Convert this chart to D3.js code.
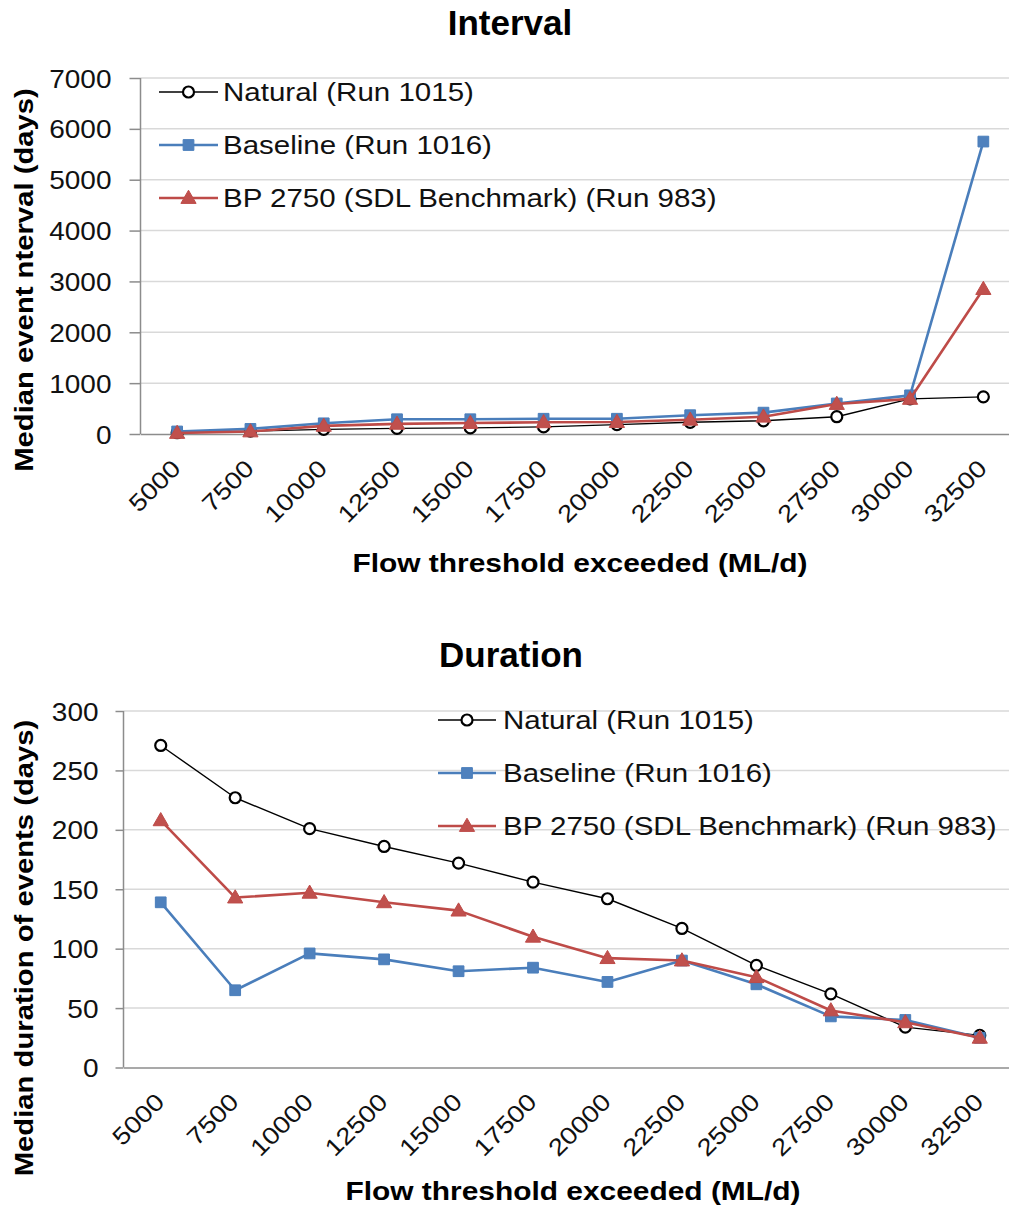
<!DOCTYPE html>
<html><head><meta charset="utf-8">
<script src="https://cdn.jsdelivr.net/npm/d3@7/dist/d3.min.js"></script>
<style>
html,body{margin:0;padding:0;background:#fff;}
svg{display:block;font-family:"Liberation Sans",Arial,sans-serif;}
</style></head>
<body>
<svg id="c" width="1009" height="1212"></svg>
<script>
const categories = ["5000","7500","10000","12500","15000","17500","20000","22500","25000","27500","30000","32500"];
const seriesNames = ["Natural (Run 1015)","Baseline (Run 1016)","BP 2750 (SDL Benchmark) (Run 983)"];

const intervalNatural  = [25, 55, 90, 110, 120, 140, 185, 230, 260, 340, 690, 730];
const intervalBaseline = [50, 100, 210, 290, 290, 300, 300, 370, 420, 600, 760, 5750];
const intervalBP       = [20, 50, 160, 200, 215, 230, 235, 280, 340, 590, 690, 2850];
const intervalTicks    = [0, 1000, 2000, 3000, 4000, 5000, 6000, 7000];

const durationNatural  = [271, 227, 201, 186, 172, 156, 142, 117, 86, 62, 34, 27];
const durationBaseline = [139, 65, 96, 91, 81, 84, 72, 90, 70, 43, 40, 25];
const durationBP       = [208, 143, 147, 139, 132, 110, 92, 90, 76, 48, 38, 25];
const durationTicks    = [0, 50, 100, 150, 200, 250, 300];

const svg = d3.select("#c");
const FONT = '"Liberation Sans",Arial,sans-serif';
const BLUE = "#4a7ebb", BLUE_FILL = "#4f81bd", RED = "#be4b48", RED_FILL = "#c0504d";

function stretch(sel, k){
  sel.each(function(){
    const L = this.getComputedTextLength();
    this.setAttribute("textLength", (L*k).toFixed(1));
    this.setAttribute("lengthAdjust","spacingAndGlyphs");
  });
}

const styles = [
  {stroke:"#000", width:1.4, marker:"circle"},
  {stroke:BLUE, width:2.6, marker:"square", fill:BLUE_FILL},
  {stroke:RED, width:2.6, marker:"triangle", fill:RED_FILL}
];

function drawMarker(g, type, x, y){
  if(type==="circle"){
    g.append("circle").attr("cx",x).attr("cy",y).attr("r",5.5)
      .attr("fill","#fff").attr("stroke","#000").attr("stroke-width",2.2);
  } else if(type==="square"){
    g.append("path").attr("d", d3.symbol(d3.symbolSquare, 115)())
      .attr("transform",`translate(${x},${y})`).attr("fill",BLUE_FILL).attr("stroke",BLUE).attr("stroke-width",1);
  } else {
    g.append("path").attr("d", d3.symbol(d3.symbolTriangle, 100)())
      .attr("transform",`translate(${x},${y+1})`).attr("fill",RED_FILL).attr("stroke",RED).attr("stroke-width",1);
  }
}

function drawChart(cfg){
  const g = svg.append("g");
  const x = d3.scaleBand().domain(categories).range([cfg.left, cfg.right]);
  const y = d3.scaleLinear().domain([0, cfg.ticks[cfg.ticks.length-1]]).range([cfg.bottom, cfg.top]);
  const cx = d => x(d) + x.bandwidth()/2;

  g.append("g").selectAll("line").data(cfg.ticks.filter(t=>t>0)).join("line")
    .attr("x1",cfg.left).attr("x2",cfg.right)
    .attr("y1",d=>y(d)).attr("y2",d=>y(d))
    .attr("stroke","#d9d9d9").attr("stroke-width",1.5);

  const ya = g.append("g").attr("transform",`translate(${cfg.left},0)`)
    .call(d3.axisLeft(y).tickValues(cfg.ticks).tickSize(cfg.tickSize).tickPadding(cfg.tickPad).tickFormat(d3.format("d")));
  ya.select(".domain").attr("stroke","#8c8c8c").attr("stroke-width",1.5).attr("d",`M0,${cfg.top}V${cfg.bottom}`);
  ya.selectAll(".tick line").attr("stroke","#8c8c8c").attr("stroke-width",1.5);
  ya.selectAll(".tick text").attr("font-family",FONT).attr("font-size",25).attr("fill","#111").attr("dy","0.36em").call(stretch,1.12);

  const xa = g.append("g").attr("transform",`translate(0,${cfg.bottom})`)
    .call(d3.axisBottom(x).tickSize(0));
  xa.select(".domain").attr("stroke","#8c8c8c").attr("stroke-width",1.5);
  xa.selectAll(".tick text").attr("font-family",FONT).attr("font-size",24).attr("fill","#111")
    .attr("x",0).attr("y",0).attr("dy",0).attr("text-anchor","end")
    .attr("transform","translate(5,36) rotate(-45)").call(stretch,1.15);

  cfg.series.forEach((vals, i) => {
    const st = styles[i];
    const line = d3.line().x((d,j)=>cx(categories[j])).y(d=>y(d));
    g.append("path").datum(vals).attr("d",line).attr("fill","none")
      .attr("stroke",st.stroke).attr("stroke-width",st.width).attr("stroke-linejoin","round");
    const mg = g.append("g");
    vals.forEach((v,j)=>drawMarker(mg, st.marker, cx(categories[j]), y(v)));
  });

  seriesNames.forEach((name,i)=>{
    const st = styles[i];
    const ly = cfg.legend.y0 + i*cfg.legend.step;
    g.append("line").attr("x1",cfg.legend.x1).attr("x2",cfg.legend.x2).attr("y1",ly).attr("y2",ly)
      .attr("stroke",st.stroke).attr("stroke-width",st.width);
    drawMarker(g, st.marker, (cfg.legend.x1+cfg.legend.x2)/2, ly);
    g.append("text").attr("x",cfg.legend.tx).attr("y",ly+9).attr("font-family",FONT).attr("font-size",25)
      .attr("fill","#111").text(name).call(stretch,1.18);
  });

  g.append("text").attr("x",cfg.titleX).attr("y",cfg.titleY).attr("text-anchor","middle")
    .attr("font-family",FONT).attr("font-size",35).attr("font-weight","bold").text(cfg.title);
  g.append("text").attr("x",cfg.xTitleX).attr("y",cfg.xTitleY).attr("text-anchor","middle")
    .attr("font-family",FONT).attr("font-size",26).attr("font-weight","bold").text("Flow threshold exceeded (ML/d)").call(stretch,1.15);
  g.append("text").attr("transform",`translate(33,${cfg.yTitleY}) rotate(-90)`).attr("text-anchor","middle")
    .attr("font-family",FONT).attr("font-size",25).attr("font-weight","bold").text(cfg.yTitle).call(stretch,1.17);
}

drawChart({
  left:140.5, right:1020, top:78, bottom:434, ticks:intervalTicks, tickSize:11, tickPad:18,
  series:[intervalNatural, intervalBaseline, intervalBP],
  legend:{x1:159, x2:218, tx:223, y0:92, step:53},
  title:"Interval", titleX:510, titleY:35,
  xTitleX:580, xTitleY:572,
  yTitle:"Median event nterval (days)", yTitleY:280
});

drawChart({
  left:123.5, right:1017, top:711, bottom:1067.5, ticks:durationTicks, tickSize:8, tickPad:17,
  series:[durationNatural, durationBaseline, durationBP],
  legend:{x1:438, x2:496, tx:503, y0:720, step:53},
  title:"Duration", titleX:511, titleY:667,
  xTitleX:573, xTitleY:1200,
  yTitle:"Median duration of events (days)", yTitleY:948
});
</script>
</body></html>
